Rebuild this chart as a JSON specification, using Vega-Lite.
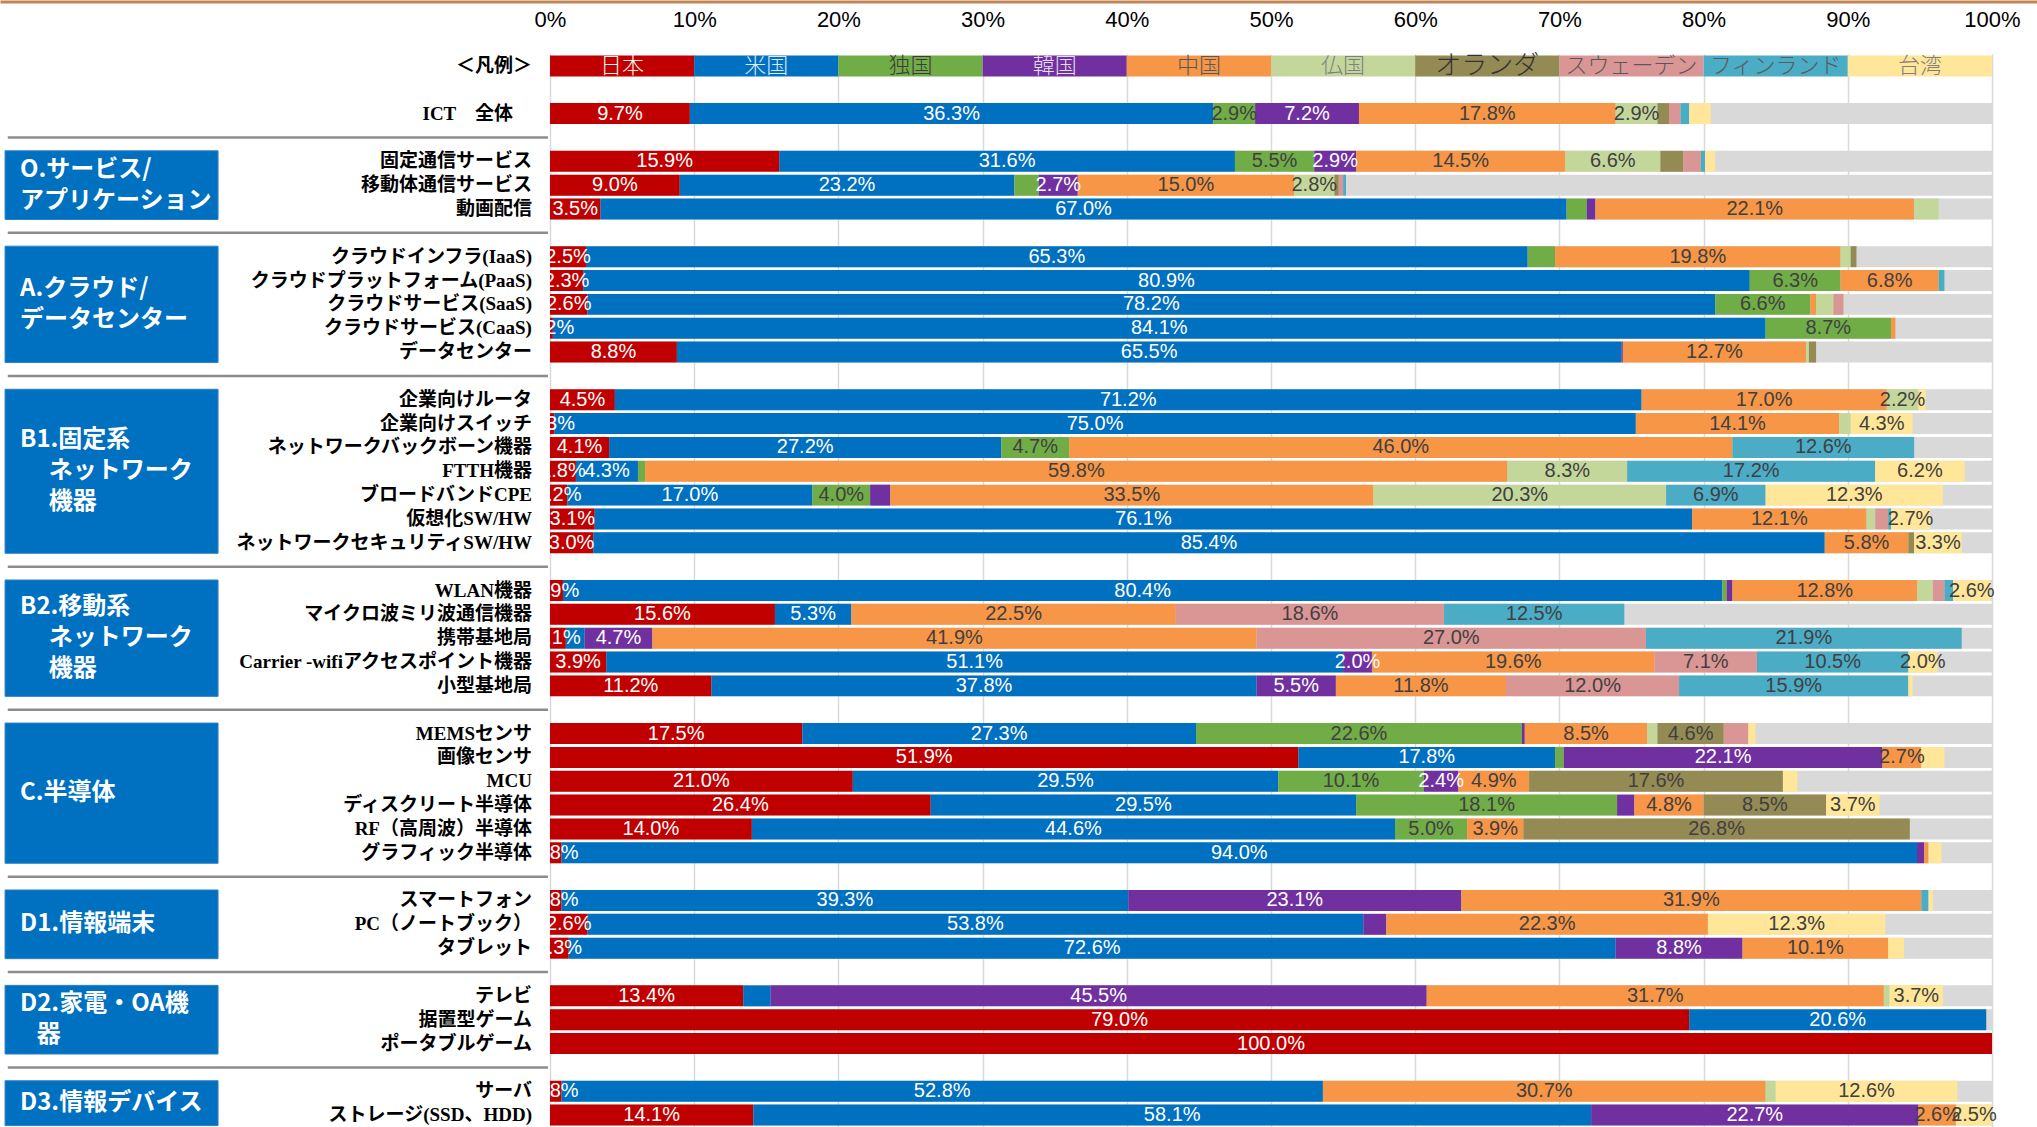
{
  "$schema": "https://vega.github.io/schema/vega-lite/v6.json",
  "width": 2037,
  "height": 1073,
  "autosize": {"type": "none"},
  "padding": {"left": 0, "top": 54, "right": 0, "bottom": 0},
  "background": "white",
  "config": {"view": {"stroke": null}, "font": "Liberation Sans"},
  "datasets": {
    "rows": [
      {"item": "＜凡例＞", "日本": 10, "米国": 10, "独国": 10, "韓国": 10, "中国": 10, "仏国": 10, "オランダ": 10, "スウェーデン": 10, "フィンランド": 10, "台湾": 10},
      {"item": "ICT　全体　\u200B", "日本": 9.7, "米国": 36.3, "独国": 2.9, "韓国": 7.2, "中国": 17.8, "仏国": 2.9, "オランダ": 0.8, "スウェーデン": 0.8, "フィンランド": 0.6, "台湾": 1.5},
      {"item": "固定通信サービス", "日本": 15.9, "米国": 31.6, "独国": 5.5, "韓国": 2.9, "中国": 14.5, "仏国": 6.6, "オランダ": 1.6, "スウェーデン": 1.2, "フィンランド": 0.3, "台湾": 0.7},
      {"item": "移動体通信サービス", "日本": 9.0, "米国": 23.2, "独国": 1.7, "韓国": 2.7, "中国": 15.0, "仏国": 2.8, "オランダ": 0.3, "スウェーデン": 0.3, "フィンランド": 0.2, "台湾": 0},
      {"item": "動画配信", "日本": 3.5, "米国": 67.0, "独国": 1.4, "韓国": 0.6, "中国": 22.1, "仏国": 1.7, "オランダ": 0, "スウェーデン": 0, "フィンランド": 0, "台湾": 0},
      {"item": "クラウドインフラ(IaaS)", "日本": 2.5, "米国": 65.3, "独国": 1.9, "韓国": 0, "中国": 19.8, "仏国": 0.7, "オランダ": 0.4, "スウェーデン": 0, "フィンランド": 0, "台湾": 0},
      {"item": "クラウドプラットフォーム(PaaS)", "日本": 2.3, "米国": 80.9, "独国": 6.3, "韓国": 0, "中国": 6.8, "仏国": 0, "オランダ": 0, "スウェーデン": 0, "フィンランド": 0.4, "台湾": 0},
      {"item": "クラウドサービス(SaaS)", "日本": 2.6, "米国": 78.2, "独国": 6.6, "韓国": 0, "中国": 0.4, "仏国": 1.2, "オランダ": 0, "スウェーデン": 0.7, "フィンランド": 0, "台湾": 0},
      {"item": "クラウドサービス(CaaS)", "日本": 0.2, "米国": 84.1, "独国": 8.7, "韓国": 0, "中国": 0.3, "仏国": 0, "オランダ": 0, "スウェーデン": 0, "フィンランド": 0, "台湾": 0},
      {"item": "データセンター", "日本": 8.8, "米国": 65.5, "独国": 0, "韓国": 0.1, "中国": 12.7, "仏国": 0.2, "オランダ": 0.5, "スウェーデン": 0, "フィンランド": 0, "台湾": 0},
      {"item": "企業向けルータ", "日本": 4.5, "米国": 71.2, "独国": 0, "韓国": 0, "中国": 17.0, "仏国": 2.2, "オランダ": 0, "スウェーデン": 0, "フィンランド": 0, "台湾": 0.5},
      {"item": "企業向けスイッチ", "日本": 0.3, "米国": 75.0, "独国": 0, "韓国": 0, "中国": 14.1, "仏国": 0.8, "オランダ": 0, "スウェーデン": 0, "フィンランド": 0, "台湾": 4.3},
      {"item": "ネットワークバックボーン機器", "日本": 4.1, "米国": 27.2, "独国": 4.7, "韓国": 0, "中国": 46.0, "仏国": 0, "オランダ": 0, "スウェーデン": 0, "フィンランド": 12.6, "台湾": 0},
      {"item": "FTTH機器", "日本": 1.8, "米国": 4.3, "独国": 0.5, "韓国": 0, "中国": 59.8, "仏国": 8.3, "オランダ": 0, "スウェーデン": 0, "フィンランド": 17.2, "台湾": 6.2},
      {"item": "ブロードバンドCPE", "日本": 1.2, "米国": 17.0, "独国": 4.0, "韓国": 1.4, "中国": 33.5, "仏国": 20.3, "オランダ": 0, "スウェーデン": 0, "フィンランド": 6.9, "台湾": 12.3},
      {"item": "仮想化SW/HW", "日本": 3.1, "米国": 76.1, "独国": 0, "韓国": 0, "中国": 12.1, "仏国": 0.6, "オランダ": 0, "スウェーデン": 0.9, "フィンランド": 0.2, "台湾": 2.7},
      {"item": "ネットワークセキュリティSW/HW", "日本": 3.0, "米国": 85.4, "独国": 0, "韓国": 0, "中国": 5.8, "仏国": 0, "オランダ": 0.4, "スウェーデン": 0, "フィンランド": 0, "台湾": 3.3},
      {"item": "WLAN機器", "日本": 0.9, "米国": 80.4, "独国": 0.3, "韓国": 0.4, "中国": 12.8, "仏国": 1.1, "オランダ": 0, "スウェーデン": 0.8, "フィンランド": 0.6, "台湾": 2.6},
      {"item": "マイクロ波ミリ波通信機器", "日本": 15.6, "米国": 5.3, "独国": 0, "韓国": 0, "中国": 22.5, "仏国": 0, "オランダ": 0, "スウェーデン": 18.6, "フィンランド": 12.5, "台湾": 0},
      {"item": "携帯基地局", "日本": 1.1, "米国": 1.3, "独国": 0, "韓国": 4.7, "中国": 41.9, "仏国": 0, "オランダ": 0, "スウェーデン": 27.0, "フィンランド": 21.9, "台湾": 0},
      {"item": "Carrier -wifiアクセスポイント機器", "日本": 3.9, "米国": 51.1, "独国": 0, "韓国": 2.0, "中国": 19.6, "仏国": 0, "オランダ": 0, "スウェーデン": 7.1, "フィンランド": 10.5, "台湾": 2.0},
      {"item": "小型基地局", "日本": 11.2, "米国": 37.8, "独国": 0, "韓国": 5.5, "中国": 11.8, "仏国": 0, "オランダ": 0, "スウェーデン": 12.0, "フィンランド": 15.9, "台湾": 0.3},
      {"item": "MEMSセンサ", "日本": 17.5, "米国": 27.3, "独国": 22.6, "韓国": 0.2, "中国": 8.5, "仏国": 0.7, "オランダ": 4.6, "スウェーデン": 1.7, "フィンランド": 0, "台湾": 0.5},
      {"item": "画像センサ", "日本": 51.9, "米国": 17.8, "独国": 0.6, "韓国": 22.1, "中国": 2.7, "仏国": 0, "オランダ": 0, "スウェーデン": 0, "フィンランド": 0, "台湾": 1.6},
      {"item": "MCU", "日本": 21.0, "米国": 29.5, "独国": 10.1, "韓国": 2.4, "中国": 4.9, "仏国": 0, "オランダ": 17.6, "スウェーデン": 0, "フィンランド": 0, "台湾": 1.0},
      {"item": "ディスクリート半導体", "日本": 26.4, "米国": 29.5, "独国": 18.1, "韓国": 1.2, "中国": 4.8, "仏国": 0, "オランダ": 8.5, "スウェーデン": 0, "フィンランド": 0, "台湾": 3.7},
      {"item": "RF（高周波）半導体", "日本": 14.0, "米国": 44.6, "独国": 5.0, "韓国": 0, "中国": 3.9, "仏国": 0, "オランダ": 26.8, "スウェーデン": 0, "フィンランド": 0, "台湾": 0},
      {"item": "グラフィック半導体", "日本": 0.8, "米国": 94.0, "独国": 0, "韓国": 0.5, "中国": 0.3, "仏国": 0, "オランダ": 0, "スウェーデン": 0, "フィンランド": 0, "台湾": 0.9},
      {"item": "スマートフォン", "日本": 0.8, "米国": 39.3, "独国": 0, "韓国": 23.1, "中国": 31.9, "仏国": 0, "オランダ": 0, "スウェーデン": 0, "フィンランド": 0.5, "台湾": 0.3},
      {"item": "PC（ノートブック）", "日本": 2.6, "米国": 53.8, "独国": 0, "韓国": 1.6, "中国": 22.3, "仏国": 0, "オランダ": 0, "スウェーデン": 0, "フィンランド": 0, "台湾": 12.3},
      {"item": "タブレット", "日本": 1.3, "米国": 72.6, "独国": 0, "韓国": 8.8, "中国": 10.1, "仏国": 0, "オランダ": 0, "スウェーデン": 0, "フィンランド": 0, "台湾": 1.1},
      {"item": "テレビ", "日本": 13.4, "米国": 1.9, "独国": 0, "韓国": 45.5, "中国": 31.7, "仏国": 0.4, "オランダ": 0, "スウェーデン": 0, "フィンランド": 0, "台湾": 3.7},
      {"item": "据置型ゲーム", "日本": 79.0, "米国": 20.6, "独国": 0, "韓国": 0, "中国": 0, "仏国": 0, "オランダ": 0, "スウェーデン": 0, "フィンランド": 0, "台湾": 0},
      {"item": "ポータブルゲーム", "日本": 100.0, "米国": 0, "独国": 0, "韓国": 0, "中国": 0, "仏国": 0, "オランダ": 0, "スウェーデン": 0, "フィンランド": 0, "台湾": 0},
      {"item": "サーバ", "日本": 0.8, "米国": 52.8, "独国": 0, "韓国": 0, "中国": 30.7, "仏国": 0.7, "オランダ": 0, "スウェーデン": 0, "フィンランド": 0, "台湾": 12.6},
      {"item": "ストレージ(SSD、HDD)", "日本": 14.1, "米国": 58.1, "独国": 0, "韓国": 22.7, "中国": 2.6, "仏国": 0, "オランダ": 0, "スウェーデン": 0, "フィンランド": 0, "台湾": 2.5}
    ],
    "groups": [
      {"group": "O.サービス/\nアプリケーション", "first": "固定通信サービス", "last": "動画配信", "mid": "移動体通信サービス", "even": false},
      {"group": "A.クラウド/\nデータセンター", "first": "クラウドインフラ(IaaS)", "last": "データセンター", "mid": "クラウドサービス(SaaS)", "even": false},
      {"group": "B1.固定系\n\u200B　\u2009ネットワーク\n\u200B　\u2009機器", "first": "企業向けルータ", "last": "ネットワークセキュリティSW/HW", "mid": "FTTH機器", "even": false},
      {"group": "B2.移動系\n\u200B　\u2009ネットワーク\n\u200B　\u2009機器", "first": "WLAN機器", "last": "小型基地局", "mid": "携帯基地局", "even": false},
      {"group": "C.半導体", "first": "MEMSセンサ", "last": "グラフィック半導体", "mid": "MCU", "even": true},
      {"group": "D1.情報端末", "first": "スマートフォン", "last": "タブレット", "mid": "PC（ノートブック）", "even": false},
      {"group": "D2.家電・OA機\n\u200B\u2002\u2009器", "first": "テレビ", "last": "ポータブルゲーム", "mid": "据置型ゲーム", "even": false},
      {"group": "D3.情報デバイス", "first": "サーバ", "last": "ストレージ(SSD、HDD)", "mid": "サーバ", "even": true}
    ],
    "separators": [
      {"slot": "s2"}, {"slot": "s3"}, {"slot": "s4"}, {"slot": "s5"},
      {"slot": "s6"}, {"slot": "s7"}, {"slot": "s8"}, {"slot": "s9"}
    ]
  },
  "layer": [
    {
      "description": "grey remainder behind each row, 0-100%",
      "data": {"name": "rows"},
      "transform": [{"filter": "datum.item !== '＜凡例＞'"}],
      "mark": {"type": "bar", "color": "#D9D9D9"},
      "encoding": {
        "y": {
          "field": "item", "type": "nominal", "sort": null, "axis": null,
          "scale": {
            "paddingInner": 0.12, "paddingOuter": 0.06,
            "domain": ["＜凡例＞", "s1", "ICT　全体　\u200B", "s2", "固定通信サービス", "移動体通信サービス", "動画配信", "s3", "クラウドインフラ(IaaS)", "クラウドプラットフォーム(PaaS)", "クラウドサービス(SaaS)", "クラウドサービス(CaaS)", "データセンター", "s4", "企業向けルータ", "企業向けスイッチ", "ネットワークバックボーン機器", "FTTH機器", "ブロードバンドCPE", "仮想化SW/HW", "ネットワークセキュリティSW/HW", "s5", "WLAN機器", "マイクロ波ミリ波通信機器", "携帯基地局", "Carrier -wifiアクセスポイント機器", "小型基地局", "s6", "MEMSセンサ", "画像センサ", "MCU", "ディスクリート半導体", "RF（高周波）半導体", "グラフィック半導体", "s7", "スマートフォン", "PC（ノートブック）", "タブレット", "s8", "テレビ", "据置型ゲーム", "ポータブルゲーム", "s9", "サーバ", "ストレージ(SSD、HDD)"]
          }
        },
        "x": {
          "datum": 0, "type": "quantitative",
          "scale": {"domain": [-38.14, 103.12], "nice": false, "zero": false},
          "axis": {
            "orient": "top", "title": null,
            "values": [0, 10, 20, 30, 40, 50, 60, 70, 80, 90, 100],
            "labelExpr": "datum.value + '%'",
            "grid": true, "gridColor": "#D9D9D9", "gridWidth": 1.5,
            "ticks": false, "tickSize": 0,
            "domain": true, "domainColor": "#C08552", "domainWidth": 3,
            "offset": 52.5,
            "labelPadding": -17.5, "labelBaseline": "middle",
            "labelFont": "Liberation Sans", "labelFontSize": 22, "labelColor": "#000000",
            "labelFlush": false, "labelOverlap": false
          }
        },
        "x2": {"datum": 100}
      }
    },
    {
      "description": "stacked country shares",
      "data": {"name": "rows"},
      "transform": [
        {"fold": ["日本", "米国", "独国", "韓国", "中国", "仏国", "オランダ", "スウェーデン", "フィンランド", "台湾"], "as": ["country", "pct"]},
        {"filter": "datum.pct > 0"},
        {"stack": "pct", "groupby": ["item"], "as": ["p0", "p1"]}
      ],
      "mark": {"type": "bar"},
      "encoding": {
        "y": {"field": "item", "type": "nominal"},
        "x": {"field": "p0", "type": "quantitative"},
        "x2": {"field": "p1"},
        "color": {
          "field": "country", "type": "nominal", "legend": null,
          "scale": {
            "domain": ["日本", "米国", "独国", "韓国", "中国", "仏国", "オランダ", "スウェーデン", "フィンランド", "台湾"],
            "range": ["#C00000", "#0070C0", "#70AD47", "#7030A0", "#F79646", "#C4D79B", "#948A54", "#DA9694", "#4BACC6", "#FFE699"]
          }
        }
      }
    },
    {
      "description": "percentage labels centred on each segment",
      "data": {"name": "rows"},
      "transform": [
        {"fold": ["日本", "米国", "独国", "韓国", "中国", "仏国", "オランダ", "スウェーデン", "フィンランド", "台湾"], "as": ["country", "pct"]},
        {"filter": "datum.pct > 0"},
        {"stack": "pct", "groupby": ["item"], "as": ["p0", "p1"]},
        {"filter": "datum.item !== '＜凡例＞'"},
        {"filter": "datum.country === '日本' || datum.pct >= 2"},
        {"calculate": "(datum.p0 + datum.p1) / 2", "as": "mid"},
        {"calculate": "format(datum.pct, '.1f') + '%'", "as": "lab"}
      ],
      "mark": {"type": "text", "font": "Liberation Sans", "fontSize": 20, "baseline": "middle", "align": "center"},
      "encoding": {
        "y": {"field": "item", "type": "nominal"},
        "x": {"field": "mid", "type": "quantitative"},
        "text": {"field": "lab"},
        "color": {
          "condition": {"test": "indexof(['日本', '米国', '韓国'], datum.country) >= 0", "value": "#FFFFFF"},
          "value": "#404040"
        }
      }
    },
    {
      "description": "country names inside the legend row",
      "data": {"name": "rows"},
      "transform": [
        {"filter": "datum.item === '＜凡例＞'"},
        {"fold": ["日本", "米国", "独国", "韓国", "中国", "仏国", "オランダ", "スウェーデン", "フィンランド", "台湾"], "as": ["country", "pct"]},
        {"stack": "pct", "groupby": ["item"], "as": ["p0", "p1"]},
        {"calculate": "(datum.p0 + datum.p1) / 2", "as": "mid"}
      ],
      "mark": {"type": "text", "font": "Noto Sans CJK JP", "fontWeight": 300, "baseline": "middle", "align": "center"},
      "encoding": {
        "y": {"field": "item", "type": "nominal"},
        "x": {"field": "mid", "type": "quantitative"},
        "text": {"field": "country"},
        "size": {"condition": {"test": "datum.country === 'オランダ'", "value": 26}, "value": 22},
        "fill": {
          "field": "country", "type": "nominal", "legend": null,
          "scale": {
            "domain": ["日本", "米国", "独国", "韓国", "中国", "仏国", "オランダ", "スウェーデン", "フィンランド", "台湾"],
            "range": ["#FFF2F2", "#DDEBF7", "#3B3B3B", "#E4DFEC", "#595959", "#7F7F7F", "#333333", "#595959", "#595959", "#7F7F7F"]
          }
        }
      }
    },
    {
      "description": "white band left of 0% so overflowing labels stop at the axis",
      "data": {"name": "rows"},
      "mark": {"type": "bar", "color": "#FFFFFF"},
      "encoding": {
        "y": {"field": "item", "type": "nominal"},
        "x": {"datum": -38.14, "type": "quantitative"},
        "x2": {"datum": -0.07}
      }
    },
    {
      "description": "grey rules between category groups",
      "data": {"name": "separators"},
      "mark": {"type": "rule", "color": "#8C8C8C", "strokeWidth": 2.5},
      "encoding": {
        "y": {"field": "slot", "type": "nominal", "bandPosition": 0.5},
        "x": {"datum": -37.6, "type": "quantitative"},
        "x2": {"datum": -0.14}
      }
    },
    {
      "description": "blue category boxes",
      "data": {"name": "groups"},
      "mark": {"type": "rect", "color": "#0070C0", "stroke": "#2F80C8", "strokeWidth": 1},
      "encoding": {
        "y": {"field": "first", "type": "nominal", "bandPosition": 0},
        "y2": {"field": "last", "bandPosition": 1},
        "x": {"datum": -37.79, "type": "quantitative"},
        "x2": {"datum": -23.02}
      }
    },
    {
      "description": "single-line captions centred on the middle row",
      "data": {"name": "groups"},
      "transform": [{"filter": "!datum.even && length(split(datum.group, '\\n')) === 1"}],
      "mark": {"type": "text", "font": "Noto Sans CJK JP", "fontWeight": "bold", "fontSize": 24, "color": "#FFFFFF", "align": "left", "baseline": "middle"},
      "encoding": {
        "y": {"field": "mid", "type": "nominal", "bandPosition": 0.5},
        "x": {"datum": -36.75, "type": "quantitative"},
        "text": {"field": "group"}
      }
    },
    {
      "description": "single-line captions for groups with an even row count, centred between the two middle rows",
      "data": {"name": "groups"},
      "transform": [{"filter": "datum.even"}],
      "mark": {"type": "text", "font": "Noto Sans CJK JP", "fontWeight": "bold", "fontSize": 24, "color": "#FFFFFF", "align": "left", "baseline": "middle", "dy": 1},
      "encoding": {
        "y": {"field": "mid", "type": "nominal", "bandPosition": 1},
        "x": {"datum": -36.75, "type": "quantitative"},
        "text": {"field": "group"}
      }
    },
    {
      "description": "two-line captions, block centred on the middle row",
      "data": {"name": "groups"},
      "transform": [{"filter": "length(split(datum.group, '\\n')) === 2"}],
      "mark": {"type": "text", "font": "Noto Sans CJK JP", "fontWeight": "bold", "fontSize": 24, "color": "#FFFFFF", "align": "left", "baseline": "middle", "lineBreak": "\n", "lineHeight": 31, "dy": -15.5},
      "encoding": {
        "y": {"field": "mid", "type": "nominal", "bandPosition": 0.5},
        "x": {"datum": -36.75, "type": "quantitative"},
        "text": {"field": "group"}
      }
    },
    {
      "description": "three-line captions, block centred on the middle row",
      "data": {"name": "groups"},
      "transform": [{"filter": "length(split(datum.group, '\\n')) === 3"}],
      "mark": {"type": "text", "font": "Noto Sans CJK JP", "fontWeight": "bold", "fontSize": 24, "color": "#FFFFFF", "align": "left", "baseline": "middle", "lineBreak": "\n", "lineHeight": 31, "dy": -31},
      "encoding": {
        "y": {"field": "mid", "type": "nominal", "bandPosition": 0.5},
        "x": {"datum": -36.75, "type": "quantitative"},
        "text": {"field": "group"}
      }
    },
    {
      "description": "row names, right-aligned against the bars",
      "data": {"name": "rows"},
      "mark": {"type": "text", "font": "Liberation Serif, Noto Sans CJK JP", "fontSize": 19, "fontWeight": "bold", "color": "#000000", "align": "right", "baseline": "middle"},
      "encoding": {
        "y": {"field": "item", "type": "nominal"},
        "x": {"datum": -1.25, "type": "quantitative"},
        "text": {"field": "item"}
      }
    }
  ]
}
